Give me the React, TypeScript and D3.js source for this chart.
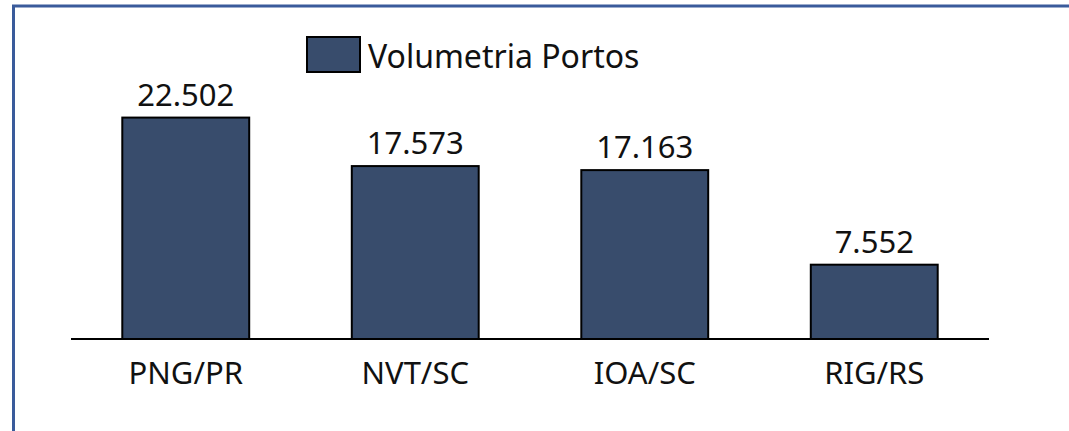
import * as d3 from "d3";
import { useEffect, useRef } from "react";

const WIDTH = 1069;
const HEIGHT = 431;

const PORTS = ["PNG/PR", "NVT/SC", "IOA/SC", "RIG/RS"];
const VOLUMES = [22502, 17573, 17163, 7552];
const SERIES_NAME = "Volumetria Portos";

const BAR_COLOR = "#384c6c";
const FONT = "'Noto Sans', 'Open Sans', sans-serif";

const fmt = (v: number) => d3.format(",")(v).replace(/,/g, ".");

export default function App() {
  const ref = useRef<SVGSVGElement>(null);

  useEffect(() => {
    const svg = d3.select(ref.current);
    svg.selectAll("*").remove();

    // frame: top and left edges only
    svg
      .append("path")
      .attr("d", `M13.5,${HEIGHT} V6 H${WIDTH}`)
      .attr("fill", "none")
      .attr("stroke", "#3a5b9b")
      .attr("stroke-width", 3);

    const x = d3
      .scaleBand<string>()
      .domain(PORTS)
      .range([71, 989])
      .paddingInner(0.447)
      .paddingOuter(0.2235);

    const y = d3.scaleLinear().domain([0, 25000]).range([339, 93]);

    const g = svg.append("g");

    g.selectAll("rect.bar")
      .data(VOLUMES)
      .enter()
      .append("rect")
      .attr("class", "bar")
      .attr("x", (_, i) => x(PORTS[i])!)
      .attr("y", (d) => y(d))
      .attr("width", x.bandwidth())
      .attr("height", (d) => y(0) - y(d))
      .attr("fill", BAR_COLOR)
      .attr("stroke", "#000")
      .attr("stroke-width", 2);

    // baseline
    g.append("line")
      .attr("x1", 71)
      .attr("x2", 989)
      .attr("y1", y(0))
      .attr("y2", y(0))
      .attr("stroke", "#000")
      .attr("stroke-width", 2);

    g.selectAll("text.value")
      .data(VOLUMES)
      .enter()
      .append("text")
      .attr("class", "value")
      .attr("x", (_, i) => x(PORTS[i])! + x.bandwidth() / 2)
      .attr("y", (d) => y(d) - 12)
      .attr("text-anchor", "middle")
      .style("font-family", FONT)
      .style("font-size", "31px")
      .attr("fill", "#111")
      .text((d) => fmt(d));

    g.selectAll("text.cat")
      .data(PORTS)
      .enter()
      .append("text")
      .attr("class", "cat")
      .attr("x", (d) => x(d)! + x.bandwidth() / 2)
      .attr("y", 384)
      .attr("text-anchor", "middle")
      .style("font-family", FONT)
      .style("font-size", "31px")
      .attr("fill", "#111")
      .text((d) => d);

    // legend
    const legend = svg.append("g").attr("transform", "translate(307,37)");
    legend
      .append("rect")
      .attr("width", 53)
      .attr("height", 35)
      .attr("fill", BAR_COLOR)
      .attr("stroke", "#000")
      .attr("stroke-width", 2);
    legend
      .append("text")
      .attr("x", 61)
      .attr("y", 31)
      .style("font-family", FONT)
      .style("font-size", "32px")
      .attr("fill", "#111")
      .text(SERIES_NAME);
  }, []);

  return (
    <div style={{ position: "absolute", left: 0, top: 0, background: "#fff" }}>
      <svg ref={ref} width={WIDTH} height={HEIGHT} />
    </div>
  );
}
